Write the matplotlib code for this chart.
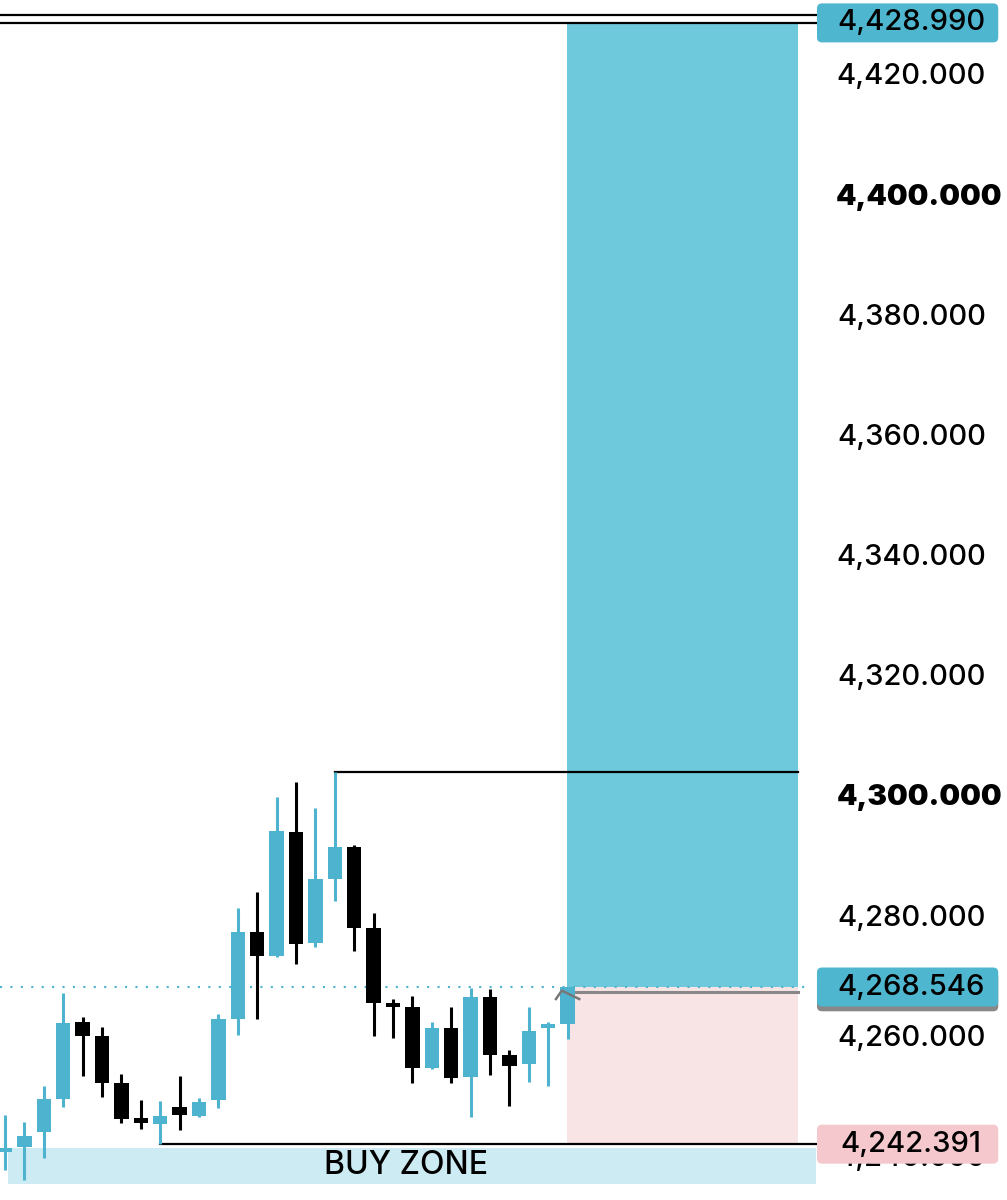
import matplotlib.pyplot as plt
from matplotlib.patches import Rectangle, FancyBboxPatch

# candle data
opens = [4241.1, 4241.9, 4244.4, 4249.9, 4262.7, 4260.4, 4252.6, 4246.8, 4245.8, 4248.6,
         4247.1, 4249.75, 4263.2, 4277.7, 4273.7, 4294.3, 4275.9, 4286.5, 4291.85, 4278.4,
         4265.9, 4265.2, 4255.1, 4261.7, 4253.6, 4266.9, 4257.2, 4255.7, 4261.7, 4262.4]
closes = [4241.8, 4243.8, 4249.9, 4262.6, 4260.4, 4252.6, 4246.6, 4245.9, 4247.1, 4247.3,
          4249.4, 4263.2, 4277.7, 4273.7, 4294.5, 4275.7, 4286.5, 4291.85, 4278.4, 4265.9,
          4265.2, 4255.1, 4261.7, 4253.4, 4266.9, 4257.2, 4255.4, 4261.2, 4262.4, 4268.546]
highs = [4247.3, 4246.1, 4252.1, 4267.6, 4263.6, 4261.9, 4254.1, 4249.7, 4249.6, 4253.7,
         4250.1, 4264.1, 4281.7, 4284.4, 4300.2, 4302.7, 4298.3, 4304.4, 4292.2, 4280.9,
         4266.6, 4267.1, 4262.7, 4265.2, 4268.4, 4268.2, 4258.1, 4265.2, 4262.7, 4268.6]
lows = [4238.1, 4236.4, 4240.1, 4248.6, 4253.7, 4250.2, 4245.9, 4244.9, 4242.391, 4244.8,
        4246.9, 4248.4, 4260.6, 4263.2, 4273.5, 4272.4, 4275.2, 4282.9, 4274.5, 4260.4,
        4260.1, 4252.6, 4254.9, 4252.6, 4246.9, 4253.9, 4248.75, 4252.75, 4252.1, 4259.9]

# levels
target = 4428.990
entry = 4268.546
stop = 4242.391
swing_high = 4304.4
buy_zone = (4235.8, 4241.76)
tick_values = [4420, 4400, 4380, 4360, 4340, 4320, 4300, 4280, 4260, 4240]
bold_ticks = [4400, 4300]

up_col = '#4DB3CF'
down_col = '#000000'
target_col = '#6DC9DB'
stop_col = '#F9E4E5'
zone_col = '#CCEBF3'

plt.rcParams['font.family'] = ['Inter', 'DejaVu Sans']

fig = plt.figure(figsize=(10.07, 12), dpi=100)
ax = fig.add_axes([0, 0, 1, 1])
ymin, ymax = 4233.1, 4432.8
ax.set_xlim(-0.26, 51.65)
ax.set_ylim(ymin, ymax)
ax.axis('off')

def yfrac(p):
    return (p - ymin) / (ymax - ymin)

# position tool (last candle -> right)
last = len(closes) - 1
box_end = 40.9
ax.add_patch(Rectangle((last - 0.05, entry), box_end - last + 0.05, target - entry,
                       color=target_col, lw=0, zorder=1))
ax.add_patch(Rectangle((last - 0.05, stop), box_end - last + 0.05, entry - stop,
                       color=stop_col, lw=0, zorder=1))
ax.plot([last + 0.4, box_end], [entry - 0.75, entry - 0.75], color='#888888', lw=2.2, zorder=2)

# buy zone
ax.add_patch(Rectangle((0.15, buy_zone[0]), 41.8 - 0.15, buy_zone[1] - buy_zone[0],
                       color=zone_col, lw=0, zorder=1))
ax.text(20.65, (buy_zone[0] + buy_zone[1]) / 2, 'BUY ZONE', ha='center', va='center',
        fontsize=23, fontweight='medium', color='black', zorder=5)

# horizontal lines
ax.plot([-0.26, 41.8], [target, target], color='black', lw=1.6, zorder=3)
ax.plot([-0.26, 41.8], [target + 1.3, target + 1.3], color='black', lw=1.6, zorder=3)
ax.plot([17, box_end], [swing_high, swing_high], color='black', lw=1.6, zorder=3)
ax.plot([8, 41.8], [stop, stop], color='black', lw=1.6, zorder=3)
ax.plot([-0.26, 41.5], [entry, entry], color=up_col, lw=1.5, ls=(0, (1, 4)), zorder=2)

# candles
for i in range(len(opens)):
    o, c, h, l = opens[i], closes[i], highs[i], lows[i]
    col = up_col if c >= o else down_col
    ax.plot([i, i], [l, h], color=col, lw=2.2, zorder=4, solid_capstyle='butt')
    bot = min(o, c)
    hgt = max(abs(c - o), 0.5)
    ax.add_patch(Rectangle((i - 0.37, bot), 0.74, hgt, color=col, lw=0, zorder=4))

# entry caret
ax.plot([last - 0.6, last - 0.3, last + 0.6], [entry - 2.0, entry - 0.6, entry - 2.0],
        color='#777777', lw=1.8, zorder=5)

# price axis labels
label_x = 0.905
for v in tick_values:
    bold = v in bold_ticks
    ax.text(label_x + (0.008 if bold else 0), v, f'{v:,.3f}', transform=ax.get_yaxis_transform(),
            ha='center', va='center', fontsize=21 if bold else 21, color='black',
            fontweight='black' if bold else 'medium', zorder=3)

# price label boxes
def price_box(p, face, shadow=False):
    h = 39 / 1200
    y0 = yfrac(p) - h / 2
    if shadow:
        ax.add_patch(FancyBboxPatch((0.8113, y0 - 0.004), 0.18, h, boxstyle='round,pad=0,rounding_size=0.005',
                                    mutation_aspect=1007 / 1200, transform=ax.transAxes,
                                    facecolor='#888888', lw=0, zorder=6))
    ax.add_patch(FancyBboxPatch((0.8113, y0), 0.18, h, boxstyle='round,pad=0,rounding_size=0.005',
                                mutation_aspect=1007 / 1200, transform=ax.transAxes,
                                facecolor=face, lw=0, zorder=6))
    ax.text(label_x, p, f'{p:,.3f}', transform=ax.get_yaxis_transform(), ha='center',
            va='center', fontsize=21, fontweight='medium', color='black', zorder=7)

price_box(target, '#4FB6D0')
price_box(entry, '#4FB6D0', shadow=True)
price_box(stop, '#F4C8CC')

fig.savefig('out.png', dpi=100)
